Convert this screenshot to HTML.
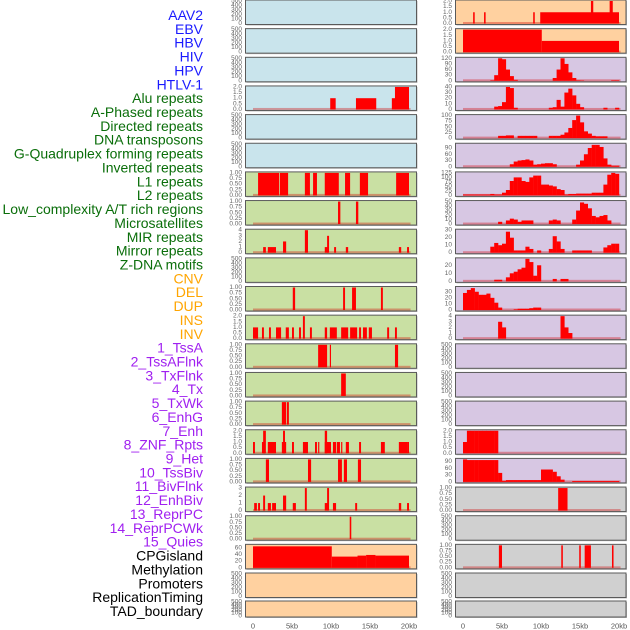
<!DOCTYPE html>
<html><head><meta charset="utf-8"><style>
html,body{margin:0;padding:0;background:#fff;}
svg{display:block;font-family:"Liberation Sans",sans-serif;}
</style></head><body>
<svg id="chart" width="630" height="630" viewBox="0 0 630 630" xmlns="http://www.w3.org/2000/svg">
<g id="labels"></g>
<g id="panels"></g>
<g id="xaxes"></g>
</svg>
<script>
// ---- labels ----
const labelNames = ["AAV2","EBV","HBV","HIV","HPV","HTLV-1","Alu repeats","A-Phased repeats","Directed repeats","DNA transposons","G-Quadruplex forming repeats","Inverted repeats","L1 repeats","L2 repeats","Low_complexity A/T rich regions","Microsatellites","MIR repeats","Mirror repeats","Z-DNA motifs","CNV","DEL","DUP","INS","INV","1_TssA","2_TssAFlnk","3_TxFlnk","4_Tx","5_TxWk","6_EnhG","7_Enh","8_ZNF_Rpts","9_Het","10_TssBiv","11_BivFlnk","12_EnhBiv","13_ReprPC","14_ReprPCWk","15_Quies","CPGisland","Methylation","Promoters","ReplicationTiming","TAD_boundary"];
const labelGroups = ["v","v","v","v","v","v","r","r","r","r","r","r","r","r","r","r","r","r","r","s","s","s","s","s","c","c","c","c","c","c","c","c","c","c","c","c","c","c","c","o","o","o","o","o"];
const groupColors = {v:"#1a1aff",r:"#0a6e0a",s:"#ffa500",c:"#a020f0",o:"#000"};

// ---- x axis ----
const xTickKb = [0,5,10,15,20];
const xTickLabels = ["0","5kb","10kb","15kb","20kb"];

// ---- left column segment data [startKb,endKb,value] ----
const L3_alu = [[9.9,10.6,1],[13.2,15.8,1],[17.8,18.3,1],[18.2,20.0,2]];
const L6_l1 = [[0.65,3.35,1],[3.45,4.5,1],[6.65,7.3,1],[7.7,8.2,1],[9.2,11.0,1],[11.8,12.45,1],[13.7,14.75,1],[18.35,20,1]];
const L7_l2 = [[10.9,11.2,1],[13.2,13.5,1]];
const L8_mir = [[1.3,1.65,1],[1.9,2.95,1],[3.85,4.25,2],[6.65,7.05,4],[9.2,9.6,1],[9.5,9.75,3],[10.4,10.65,1],[11.9,12.2,1],[18.7,19,1],[19.75,20,1]];
const L10_seg = [[5.1,5.4,1],[11.55,11.8,1],[12.7,13.2,1],[16.4,16.65,1]];
const L11_seg = [[0,0.65,1],[1.15,1.4,1],[2.05,2.3,1],[2.95,3.6,1],[4.2,4.6,1],[5,5.25,1],[5.9,6.15,1],[7.3,7.55,1],[9.2,9.5,1],[9.85,10.75,1],[11.3,12.2,1],[12.45,13.35,1],[13.6,13.85,1],[14.1,14.6,1],[14.85,15.25,1],[17.2,17.45,1],[18.2,18.45,1],[6.4,6.65,2]];
const L12_seg = [[8.35,9.5,1],[9.85,10,1],[18.2,18.6,1]];
const L13_seg = [[11.3,11.9,1]];
const L14_seg = [[3.7,4.25,1],[4.35,4.6,1]];
const L15_seg = [[0,0.25,1],[1.15,1.55,1],[1.9,2.95,1],[3.7,4.25,1],[5,5.25,1],[6.4,7.05,1],[7.95,8.2,1],[8.35,8.5,1],[9.2,10,1],[10.25,10.65,1],[10.75,11.15,1],[11.3,11.45,1],[11.9,12.3,1],[13.6,13.85,1],[16.4,16.9,1],[18.7,19.75,1],[19.75,20,1],[1.3,1.65,2],[3.85,4.1,2],[9.2,9.5,2]];
const L16_seg = [[1.65,2.05,1],[7.05,7.45,1],[10.9,11.4,1],[11.65,12.05,1],[13.45,13.85,1]];
const L17_seg = [[0.15,0.5,1],[0.65,0.9,1],[1.9,2.3,1],[2.45,2.95,1],[5.1,5.5,1],[9.2,9.6,1],[10.25,10.65,1],[13.1,13.35,1],[18.7,19,1],[19.75,20,1],[1.3,1.55,2],[3.85,4.25,2],[6.65,6.9,3],[9.5,9.75,3]];
const L18_seg = [[12.4,12.6,1]];
const L19_cpg = [[0,10.1,65],[10.1,13.4,34],[13.4,14.5,37],[14.5,15.7,39],[15.7,20.0,37]];

// ---- right column data ----
const R0_seg = [[1.3,1.5,1],[2.7,2.9,1],[9.0,9.2,1],[9.9,20,1],[16.4,16.7,2],[18.8,19.2,2]];
const R1_seg = [[0,10.1,2],[10.1,20,1]];
const R17_seg = [[12.2,13.4,1]];
const R19_seg = [[4.6,5.0,1],[12.6,12.8,1],[14.9,15.1,1],[15.6,16.4,1],[19.1,19.3,1]];
// 0.5kb bins, 0..20.5kb
const R2_bins = [0,0,0,0,0,0,0,3,30,120, 115,60,25,5,0,0,0,0,0,0, 0,0,0,15,60,120,90,45,15,3, 2,0,0,0,0,0,0,0,3,3, 0];
const R3_bins = [0,0,0,0,0,0,0,0,5,6, 13,40,38,3,0,0,0,0,0,0, 0,0,3,4,17,5,30,37,25,10, 4,0,0,0,0,0,3,0,0,3, 0];
const R4_bins = [0,0,0,0,0,0,0,0,0,10, 10,12,12,0,10,10,10,10,10,0, 0,0,10,10,10,15,25,45,80,100, 70,30,20,10,8,8,8,0,0,0, 0];
const R5_bins = [0,0,0,0,0,0,0,0,0,0, 0,0,12,25,30,32,35,30,10,12, 15,17,17,12,0,0,0,0,0,10, 30,60,90,105,105,95,40,10,5,5, 0];
const R6_bins = [5,5,5,5,5,5,5,8,5,5, 15,30,80,100,100,80,75,100,110,110, 60,60,55,50,35,30,5,8,8,10, 10,10,10,15,15,15,60,115,125,120, 0];
const R7_bins = [0,0,0,0,0,0,0,0,0,5, 0,8,12,10,5,8,8,8,0,0, 0,0,8,10,8,0,0,0,10,30, 48,45,35,18,15,18,20,8,0,0, 0];
const R8_bins = [0,0,0,0,0,0,0,8,13,10, 12,28,20,3,3,3,8,5,0,3, 0,0,5,22,15,5,0,0,3,3, 3,3,3,0,0,0,7,10,12,12, 0];
const R9_bins = [0,0,0,0,0,0,0,0,2,2, 0,5,10,12,15,17,28,24,7,20, 0,0,0,3,0,3,3,0,0,0, 0,0,0,0,0,0,0,0,0,0, 0];
const R10_bins = [28,33,36,30,25,25,27,20,12,4, 0,0,0,1,2,2,2,3,4,4, 0,0,0,0,0,0,0,0,0,0, 0,0,0,0,0,0,0,0,0,0, 0];
const R11_bins = [0,0,0,0,0,0,0,0,0,3, 2,0,0,0,0,0,0,0,0,0, 0,0,0,0,0,4,2,1,0,0, 0,0,0,0,0,0,0,0,0,0, 0];
const R15_bins = [1,2,2,2,2,2,2,2,2,0, 0,0,0,0,0,0,0,0,0,0, 0,0,0,0,0,0,0,0,0,0, 0,0,0,0,0,0,0,0,0,0, 0];
const R16_bins = [100,97,97,97,97,97,97,97,97,40, 5,8,8,8,8,8,8,8,8,8, 55,55,55,45,25,10,0,0,4,4, 4,4,4,4,4,4,4,4,4,4, 0];

// ---- tick label sets ----
const tEmpty = ["0","100","200","300","400","500"];
const t1 = ["0.00","0.25","0.50","0.75","1.00"];
const t2 = ["0.0","0.5","1.0","1.5","2.0"];

const NS="http://www.w3.org/2000/svg";
const svg=document.getElementById('chart');
function mk(tag,attrs,parent){const e=document.createElementNS(NS,tag);for(const k in attrs)e.setAttribute(k,attrs[k]);parent.appendChild(e);return e;}

const labG=document.getElementById('labels');
labelNames.forEach((n,i)=>{
  const t=mk('text',{x:203,y:15+i*13.86,'text-anchor':'end','dominant-baseline':'central','font-size':14,fill:groupColors[labelGroups[i]]},labG);
  t.textContent=n;
  
  
});

const BG={b:"#c9e4ec",g:"#c9e0a3",o:"#ffd1a0",p:"#d7c7e3",y:"#d0d0d0"};
const leftBg="bbbbbbggggggggggggggoo o".replace(/ /g,'');
const leftBgArr=["b","b","b","b","b","b","g","g","g","g","g","g","g","g","g","g","g","g","g","o","o","o"];
const rightBgArr=["o","o","p","p","p","p","p","p","p","p","p","p","p","p","p","p","p","y","y","y","y","y"];

// panel configs: [data, kind, ymax, ticks]
const leftCfg={3:[L3_alu,'s',2,t2],6:[L6_l1,'s',1,t1],7:[L7_l2,'s',1,t1],8:[L8_mir,'s',4,["0","1","2","3","4"]],10:[L10_seg,'s',1,t1],11:[L11_seg,'s',2,t2],12:[L12_seg,'s',1,t1],13:[L13_seg,'s',1,t1],14:[L14_seg,'s',1,t1],15:[L15_seg,'s',2,t2],16:[L16_seg,'s',1,t1],17:[L17_seg,'s',3,["0","1","2","3"]],18:[L18_seg,'s',1,t1],19:[L19_cpg,'s',68,["0","20","40","60"]]};
const rightCfg={0:[R0_seg,'s',2,t2],1:[R1_seg,'s',2,t2],2:[R2_bins,'b',120,["0","30","60","90","120"]],3:[R3_bins,'b',40,["0","10","20","30","40"]],4:[R4_bins,'b',100,["0","25","50","75","100"]],5:[R5_bins,'b',108,["0","30","60","90"]],6:[R6_bins,'b',125,["0","25","50","75","100","125"]],7:[R7_bins,'b',50,["0","10","20","30","40","50"]],8:[R8_bins,'b',30,["0","10","20","30"]],9:[R9_bins,'b',28,["0","10","20"]],10:[R10_bins,'b',37,["0","10","20","30"]],11:[R11_bins,'b',4,["0","1","2","3","4"]],15:[R15_bins,'b',2,t2],16:[R16_bins,'b',100,["0","30","60","90"]],17:[R17_seg,'s',1,t1],19:[R19_seg,'s',1,t1]};

const cols=[{x0:245.5,w:171,zero:253,tickX:242,bg:leftBgArr,cfg:leftCfg,name:'left'},{x0:455.5,w:170.5,zero:463,tickX:452,bg:rightBgArr,cfg:rightCfg,name:'right'}];
const PXKB=7.8;
const panG=document.getElementById('panels');
for(let r=0;r<22;r++){
  const top=r<21?r*28.65:601, h=r<21?24.5:16;
  cols.forEach(c=>{
    const g=mk('g',{},panG);
    
    
    mk('rect',{x:c.x0+1,y:top+1,width:c.w,height:h,fill:'#bbb'},g);
    mk('rect',{x:c.x0,y:top,width:c.w,height:h,fill:BG[c.bg[r]],stroke:'#5a5a5a','stroke-width':1},g);
    const cfg=c.cfg[r];
    const ymax=cfg?cfg[2]:500, ticks=cfg?cfg[3]:tEmpty;
    const xs=kb=>c.zero+kb*PXKB;
    const ys=v=>top+h-1-v/ymax*(h-2);
    ticks.forEach(tl=>{
      const t=mk('text',{x:c.tickX,y:ys(parseFloat(tl)),'text-anchor':'end','dominant-baseline':'central','font-size':6.5,fill:'#666'},g);
      t.textContent=tl;
      
      
    });
    if(!cfg)return;
    mk('rect',{x:xs(0),y:top+h-2.5,width:20.2*PXKB,height:2,fill:'rgba(210,0,0,0.35)'},g);
    if(cfg[1]==='s'){
      cfg[0].forEach(s=>{
        const b=mk('rect',{x:xs(s[0]),y:ys(s[2]),width:Math.max(1,xs(s[1])-xs(s[0])),height:ys(0)-ys(s[2]),fill:'#ff0000'},g);
        
        
      });
    } else {
      cfg[0].forEach((v,i)=>{
        if(v<=0)return;
        const b=mk('rect',{x:xs(i*0.5),y:ys(v),width:0.5*PXKB+0.2,height:ys(0)-ys(v),fill:'#ff0000'},g);
        
        
      });
    }
  });
}
const xg=document.getElementById('xaxes');
cols.forEach(c=>{
  xTickKb.forEach((k,i)=>{
    const t=mk('text',{x:c.zero+k*PXKB,y:626,'text-anchor':'middle','dominant-baseline':'central','font-size':7.5,fill:'#555'},xg);
    t.textContent=xTickLabels[i];
    
    
  });
});
</script>
</body></html>
